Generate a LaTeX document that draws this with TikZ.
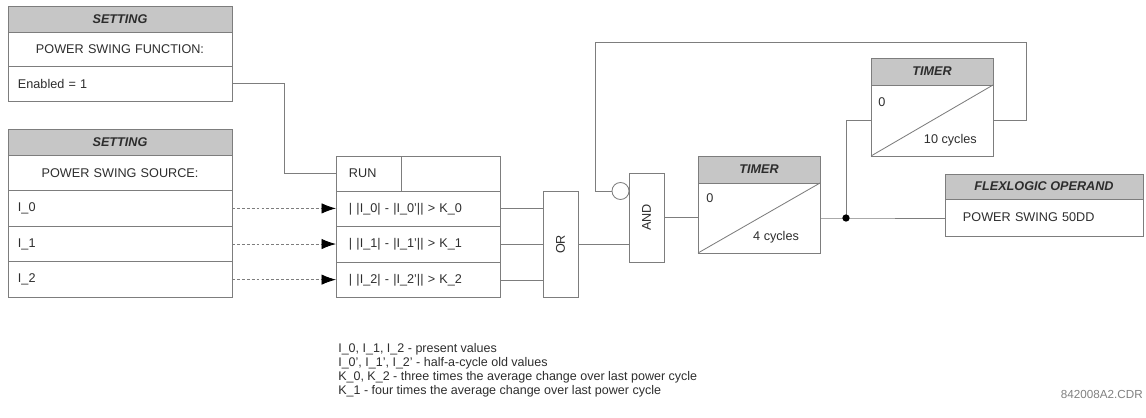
\documentclass[tikz,border=0pt]{standalone}
\usepackage{fontspec}
\setmainfont{Liberation Sans}
\usetikzlibrary{positioning,arrows.meta}
\definecolor{hdrgray}{RGB}{198,198,198}
\definecolor{linegray}{RGB}{125,125,125}
\definecolor{txtgray}{RGB}{45,45,45}

\begin{document}
\begin{tikzpicture}[x=0.025cm,y=-0.025cm,
  every node/.style={text=txtgray,font=\fontsize{9}{11}\selectfont},
  wire/.style={draw=linegray,line width=0.6pt},
  box/.style={draw=linegray,line width=0.6pt,inner sep=0pt,outer sep=0pt,minimum height=0.875cm},
  head/.style={box,fill=hdrgray,minimum height=0.65cm,font=\fontsize{9}{11}\selectfont\bfseries\itshape},
  setrow/.style={box,minimum width=5.6cm,text width=5.1cm,inner xsep=0.25cm,align=left},
  cmprow/.style={box,minimum width=4.1cm,text width=3.45cm,inner xsep=0.325cm,align=left,minimum height=0.89cm},
  gate/.style={box,minimum width=0.875cm},
  tmrlabel/.style={inner sep=0pt}]
  \useasboundingbox (0,0) rectangle (1146,418);

  \node[head,minimum width=5.6cm] (set1) at (120,19) {SETTING};
  \node[setrow,align=center,minimum height=0.85cm,below=0pt of set1] (set1fn) {POWER SWING FUNCTION:};
  \node[setrow,below=0pt of set1fn] (set1en) {Enabled = 1};

  \node[head,minimum width=5.6cm] (set2) at (120,142) {SETTING};
  \node[setrow,align=center,minimum height=0.89cm,below=0pt of set2] (set2src) {POWER SWING SOURCE:};
  \node[setrow,minimum height=0.89cm,below=0pt of set2src] (set2i0) {I\_0};
  \node[setrow,minimum height=0.89cm,below=0pt of set2i0] (set2i1) {I\_1};
  \node[setrow,minimum height=0.89cm,below=0pt of set2i1] (set2i2) {I\_2};

  \node[box,minimum width=4.1cm] (runrow) at (418,173.5) {};
  \node[box,minimum width=1.3cm,text width=0.975cm,inner xsep=0.325cm,align=left,anchor=west] (run) at (runrow.west) {RUN};
  \node[cmprow,below=0pt of runrow] (cmp0) {| |I\_0| - |I\_0'|| > K\_0};
  \node[cmprow,below=0pt of cmp0] (cmp1) {| |I\_1| - |I\_1'|| > K\_1};
  \node[cmprow,below=0pt of cmp1] (cmp2) {| |I\_2| - |I\_2'|| > K\_2};

  \node[gate,minimum height=2.65cm] (orgate) at (560.5,244.5) {\rotatebox{90}{OR}};
  \node[gate,minimum height=2.225cm] (andgate) at (646.5,217.5) {\rotatebox{90}{AND}};

  \node[head,minimum width=3.05cm,minimum height=0.675cm] (tmr1) at (759,169.5) {TIMER};
  \node[box,minimum width=3.05cm,minimum height=1.75cm,below=0pt of tmr1] (tmr1b) {};
  \draw[wire] (tmr1b.south west) -- (tmr1b.north east);
  \node[tmrlabel,below right=0.27cm and 0.2cm of tmr1b.north west] (tmr1on) {0};
  \node[tmrlabel,above left=0.24cm and 0.52cm of tmr1b.south east] (tmr1off) {4 cycles};

  \node[head,minimum width=3.05cm,minimum height=0.675cm] (tmr2) at (932,71.5) {TIMER};
  \node[box,minimum width=3.05cm,minimum height=1.775cm,below=0pt of tmr2] (tmr2b) {};
  \draw[wire] (tmr2b.south west) -- (tmr2b.north east);
  \node[tmrlabel,below right=0.32cm and 0.18cm of tmr2b.north west] (tmr2on) {0};
  \node[tmrlabel,above left=0.24cm and 0.4cm of tmr2b.south east] (tmr2off) {10 cycles};

  \node[head,minimum width=4.95cm,minimum height=0.625cm] (flex) at (1044,186.5) {FLEXLOGIC OPERAND};
  \node[box,minimum width=4.95cm,minimum height=0.925cm,text width=4.05cm,inner xsep=0.45cm,align=left,below=0pt of flex] (flexb) {POWER SWING 50DD};

  \draw[wire] (set1en.east) -- ++(52,0) |- (run.west);
  \foreach \i in {0,1,2}
    \draw[wire,dash pattern=on 2pt off 1.5pt,-{Latex[length=3.6mm,width=2.6mm,color=black]}] (set2i\i.east) -- (set2i\i.east -| cmp\i.west);
  \foreach \i in {0,1,2}
    \draw[wire] (cmp\i.east) -- (cmp\i.east -| orgate.west);
  \draw[wire] (orgate.east) -- (orgate.east -| andgate.west);
  \draw[wire] (andgate.east) -- (andgate.east -| tmr1b.west);
  \draw[wire] (tmr1b.east) -- ++(26,0) coordinate (junc) -- (junc -| flexb.west);
  \draw[wire] (junc) |- (tmr2b.west);
  \fill[black] (junc) circle (2.6pt);
  \coordinate (fbtop) at (595,42);
  \node[circle,draw=linegray,line width=0.6pt,fill=white,inner sep=0pt,minimum size=0.425cm] (notin) at (620.5,191) {};
  \draw[wire] (tmr2b.east) -- ++(33,0) |- (fbtop) |- (notin.west);

  \node[anchor=north west,align=left,inner sep=0pt,font=\fontsize{8.9}{9.9}\selectfont] (notes) at (338,343) {I\_0, I\_1, I\_2 - present values\\I\_0', I\_1', I\_2' - half-a-cycle old values\\K\_0, K\_2 - three times the average change over last power cycle\\K\_1 - four times the average change over last power cycle};
  \node[anchor=east,inner sep=0pt,text=gray,font=\fontsize{8.3}{10}\selectfont] (figid) at (1143,394) {842008A2.CDR};
\end{tikzpicture}
\end{document}
